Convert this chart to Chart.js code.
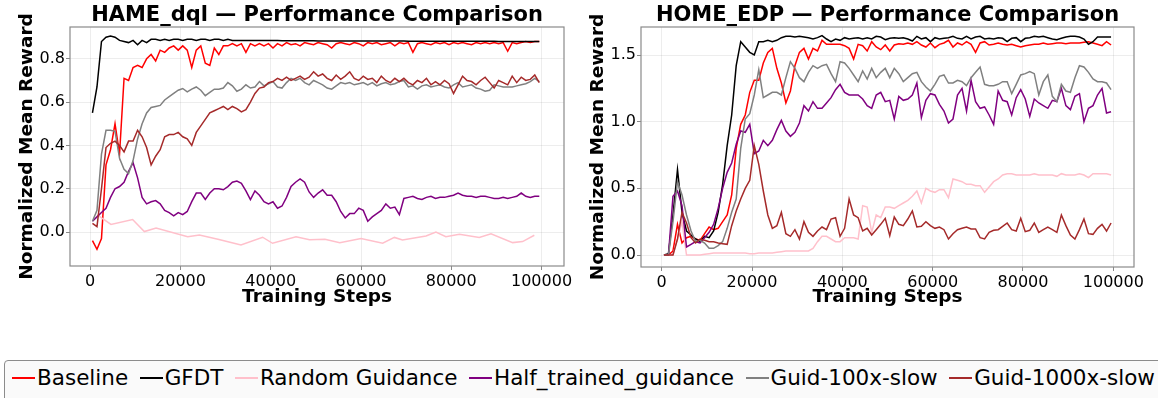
<!DOCTYPE html>
<html>
<head>
<meta charset="utf-8">
<script src="https://cdn.jsdelivr.net/npm/chart.js@4.4.1/dist/chart.umd.min.js"></script>
<style>
  html, body { margin: 0; padding: 0; background: #fff; }
  body { width: 1158px; height: 398px; overflow: hidden; position: relative; font-family: "DejaVu Sans", sans-serif; }
  .panel { position: absolute; top: 0; height: 320px; }
  #hamePanel { left: 0; width: 580px; }
  #homePanel { left: 580px; width: 578px; }
  #legend {
    position: absolute; left: 4px; top: 360px; width: 1175px; height: 48px;
    border: 1px solid #8c8c8c; border-radius: 4px; background: #fafafa;
    display: flex; align-items: flex-start; padding-left: 7px; box-sizing: border-box;
  }
  .item { display: flex; align-items: center; height: 34px; margin-right: 11.5px; white-space: nowrap; }
  .handle { width: 23px; height: 2px; margin-right: 2px; }
  .label { font-size: 21.5px; color: #000; line-height: 34px; }
</style>
</head>
<body>
<div class="panel" id="hamePanel"><canvas id="hameChart"></canvas></div>
<div class="panel" id="homePanel"><canvas id="homeChart"></canvas></div>
<div id="legend"></div>
<script>
const SERIES_NAMES = ['Baseline', 'GFDT', 'Random Guidance', 'Half_trained_guidance', 'Guid-100x-slow', 'Guid-1000x-slow'];
const SERIES_COLORS = ['#ff0000', '#000000', '#ffc0cb', '#800080', '#808080', '#a52a2a'];

// evaluation steps shared by the dense curves (every 1000 steps)
const EVAL_STEPS = Array.from({ length: 100 }, (_, i) => 500 + 1000 * i);

const X_TICKS = [0, 20000, 40000, 60000, 80000, 100000];
const HAME_Y_TICKS = [0.0, 0.2, 0.4, 0.6, 0.8];
const HOME_Y_TICKS = [0.0, 0.5, 1.0, 1.5];

// ---- HAME_dql ----
const hameBaseline = [
  -0.04, -0.08, -0.03, 0.31, 0.38, 0.50, 0.36, 0.71, 0.70, 0.76,
  0.77, 0.76, 0.80, 0.82, 0.79, 0.84, 0.83, 0.85, 0.86, 0.84,
  0.86, 0.84, 0.76, 0.84, 0.86, 0.78, 0.77, 0.85, 0.82, 0.86,
  0.86, 0.87, 0.86, 0.87, 0.83, 0.87, 0.86, 0.87, 0.86, 0.87,
  0.85, 0.87, 0.86, 0.875, 0.865, 0.87, 0.86, 0.875, 0.87, 0.865,
  0.875, 0.87, 0.865, 0.85, 0.87, 0.875, 0.87, 0.865, 0.875, 0.87,
  0.86, 0.875, 0.87, 0.875, 0.865, 0.87, 0.875, 0.86, 0.875, 0.87,
  0.875, 0.83, 0.87, 0.875, 0.87, 0.865, 0.875, 0.87, 0.875, 0.865,
  0.875, 0.87, 0.875, 0.87, 0.865, 0.875, 0.87, 0.875, 0.87, 0.875,
  0.87, 0.875, 0.835, 0.875, 0.87, 0.875, 0.88, 0.875, 0.88, 0.88
];
const hameGfdt = [
  0.55, 0.67, 0.88, 0.90, 0.905, 0.90, 0.885, 0.88, 0.875, 0.885,
  0.865, 0.885, 0.875, 0.89, 0.89, 0.885, 0.89, 0.885, 0.89, 0.89,
  0.885, 0.89, 0.89, 0.885, 0.89, 0.89, 0.885, 0.89, 0.89, 0.885,
  0.89, 0.885, 0.885, 0.885, 0.885, 0.885, 0.885, 0.885, 0.885, 0.885,
  0.885, 0.885, 0.883, 0.883, 0.883, 0.883, 0.883, 0.883, 0.883, 0.883,
  0.882, 0.882, 0.882, 0.882, 0.882, 0.882, 0.882, 0.882, 0.882, 0.882,
  0.882, 0.882, 0.882, 0.882, 0.882, 0.882, 0.882, 0.882, 0.882, 0.882,
  0.881, 0.881, 0.881, 0.881, 0.881, 0.881, 0.881, 0.881, 0.881, 0.881,
  0.881, 0.881, 0.881, 0.881, 0.881, 0.881, 0.881, 0.881, 0.881, 0.881,
  0.88, 0.88, 0.88, 0.88, 0.88, 0.88, 0.88, 0.88, 0.88, 0.88
];
const hameRandomSteps = [1500, 4600, 9400, 12000, 14600, 21600, 24200, 28300, 33400, 38200, 40400, 45600, 48600, 52000,
  55300, 60000, 64800, 67400, 69200, 74400, 76600, 78800, 81800, 86200, 88800, 93600, 95800, 98400];
const hameRandom = [0.08, 0.035, 0.058, 0.002, 0.018, -0.022, -0.014, -0.033, -0.06, -0.024, -0.052, -0.022, -0.036, -0.034,
  -0.05, -0.03, -0.052, -0.025, -0.037, -0.018, 0.0, -0.022, -0.01, -0.025, -0.008, -0.049, -0.044, -0.015];
const hameHalf = [
  0.05, 0.07, 0.09, 0.11, 0.16, 0.20, 0.21, 0.23, 0.28, 0.32,
  0.25, 0.16, 0.13, 0.14, 0.145, 0.13, 0.10, 0.09, 0.075, 0.09,
  0.08, 0.095, 0.14, 0.18, 0.18, 0.15, 0.18, 0.20, 0.20, 0.195,
  0.21, 0.23, 0.235, 0.225, 0.19, 0.15, 0.19, 0.17, 0.14, 0.13,
  0.14, 0.11, 0.12, 0.16, 0.21, 0.23, 0.245, 0.23, 0.185, 0.16,
  0.18, 0.195, 0.17, 0.17, 0.14, 0.095, 0.065, 0.085, 0.085, 0.11,
  0.10, 0.05, 0.07, 0.085, 0.10, 0.13, 0.11, 0.115, 0.08, 0.155,
  0.16, 0.165, 0.155, 0.15, 0.16, 0.165, 0.155, 0.16, 0.16, 0.165,
  0.17, 0.18, 0.17, 0.165, 0.165, 0.16, 0.165, 0.165, 0.16, 0.155,
  0.155, 0.16, 0.155, 0.16, 0.165, 0.18, 0.165, 0.16, 0.165, 0.165
];
const hameGuid100 = [
  0.05, 0.10, 0.36, 0.47, 0.47, 0.465, 0.34, 0.29, 0.27, 0.33,
  0.43, 0.50, 0.55, 0.575, 0.58, 0.585, 0.61, 0.625, 0.64, 0.655,
  0.663, 0.647, 0.66, 0.67, 0.655, 0.63, 0.645, 0.66, 0.66, 0.665,
  0.69, 0.675, 0.65, 0.66, 0.68, 0.665, 0.67, 0.695, 0.675, 0.685,
  0.695, 0.67, 0.665, 0.69, 0.71, 0.70, 0.71, 0.69, 0.68, 0.70,
  0.69, 0.68, 0.665, 0.66, 0.675, 0.69, 0.685, 0.69, 0.68, 0.685,
  0.69, 0.68, 0.69, 0.675, 0.685, 0.69, 0.68, 0.685, 0.695, 0.70,
  0.67, 0.675, 0.66, 0.675, 0.68, 0.67, 0.675, 0.68, 0.67, 0.665,
  0.68, 0.69, 0.67, 0.675, 0.68, 0.665, 0.66, 0.65, 0.655, 0.68,
  0.675, 0.67, 0.67, 0.67, 0.675, 0.68, 0.685, 0.695, 0.71, 0.695
];
const hameGuid1000 = [
  0.04, 0.025, 0.20, 0.39, 0.41, 0.42, 0.40, 0.37, 0.42, 0.42,
  0.47, 0.44, 0.39, 0.31, 0.35, 0.38, 0.44, 0.45, 0.45, 0.46,
  0.44, 0.43, 0.40, 0.46, 0.49, 0.52, 0.55, 0.56, 0.57, 0.58,
  0.565, 0.58, 0.57, 0.555, 0.565, 0.60, 0.64, 0.665, 0.67, 0.69,
  0.695, 0.71, 0.70, 0.715, 0.70, 0.71, 0.72, 0.705, 0.715, 0.74,
  0.72, 0.73, 0.71, 0.70, 0.725, 0.705, 0.72, 0.74, 0.71, 0.70,
  0.72, 0.705, 0.71, 0.69, 0.72, 0.70, 0.69, 0.71, 0.695, 0.71,
  0.69, 0.68, 0.70, 0.69, 0.71, 0.68, 0.695, 0.68, 0.70, 0.685,
  0.64, 0.68, 0.72, 0.70, 0.695, 0.68, 0.70, 0.715, 0.69, 0.665,
  0.70, 0.69, 0.68, 0.72, 0.69, 0.715, 0.70, 0.705, 0.725, 0.69
];

// ---- HOME_EDP ----
const homeBaseline = [
  0.0, 0.0, 0.03, 0.23, 0.09, 0.13, 0.14, 0.12, 0.11, 0.16,
  0.21, 0.19, 0.20, 0.25, 0.30, 0.45, 0.80, 0.98, 1.05, 1.22,
  1.31, 1.31, 1.44, 1.52, 1.55, 1.40, 1.29, 1.14, 1.23, 1.42,
  1.52, 1.55, 1.47, 1.55, 1.53, 1.61, 1.58, 1.58, 1.58, 1.58,
  1.57, 1.55, 1.47, 1.58, 1.57, 1.53, 1.60, 1.56, 1.54, 1.575,
  1.53, 1.575, 1.585, 1.58, 1.59, 1.58, 1.60, 1.575, 1.56, 1.59,
  1.555, 1.58, 1.59, 1.61, 1.56, 1.59, 1.575, 1.60, 1.58, 1.52,
  1.59, 1.60, 1.575, 1.58, 1.59, 1.58, 1.575, 1.58, 1.57, 1.56,
  1.57, 1.575, 1.58, 1.58, 1.59, 1.58, 1.585, 1.59, 1.59, 1.585,
  1.59, 1.59, 1.59, 1.595, 1.60, 1.59, 1.58, 1.57, 1.60, 1.575
];
const homeGfdt = [
  0.0, 0.01, 0.30, 0.64, 0.32, 0.18, 0.15, 0.12, 0.10, 0.14,
  0.13, 0.18, 0.32, 0.53, 0.82, 1.05, 1.42, 1.60, 1.56, 1.52,
  1.50, 1.60, 1.60, 1.61, 1.60, 1.61, 1.63, 1.64, 1.64, 1.635,
  1.64, 1.635, 1.63, 1.62, 1.63, 1.645, 1.62, 1.60, 1.62, 1.61,
  1.63, 1.62, 1.625, 1.63, 1.62, 1.63, 1.62, 1.64, 1.635, 1.615,
  1.625, 1.63, 1.625, 1.63, 1.62, 1.605, 1.64, 1.62, 1.63, 1.60,
  1.63, 1.62, 1.625, 1.63, 1.64, 1.625, 1.62, 1.64, 1.62, 1.635,
  1.64, 1.62, 1.625, 1.62, 1.63, 1.625, 1.60, 1.625, 1.63, 1.60,
  1.625, 1.63, 1.64, 1.635, 1.64, 1.63, 1.62, 1.615, 1.625, 1.635,
  1.64, 1.64, 1.635, 1.62, 1.58, 1.60, 1.635, 1.635, 1.635, 1.635
];
const homeRandom = [
  0.0, 0.0, 0.0, 0.12, 0.25, 0.0, 0.0, 0.0, 0.0, 0.005,
  0.01, 0.015, 0.015, 0.015, 0.015, 0.015, 0.015, 0.015, 0.015, 0.01,
  0.01, 0.015, 0.015, 0.015, 0.015, 0.02, 0.025, 0.03, 0.03, 0.03,
  0.03, 0.03, 0.03, 0.05, 0.10, 0.14, 0.14, 0.12, 0.10, 0.10,
  0.13, 0.13, 0.13, 0.12, 0.37, 0.36, 0.17, 0.30, 0.28, 0.36,
  0.36, 0.35, 0.37, 0.39, 0.41, 0.44, 0.48, 0.39, 0.50, 0.48,
  0.47, 0.49, 0.49, 0.43, 0.57, 0.56, 0.55, 0.53, 0.53, 0.52,
  0.52, 0.47, 0.51, 0.55, 0.57, 0.60, 0.61, 0.61, 0.60, 0.60,
  0.60, 0.60, 0.61, 0.60, 0.60, 0.60, 0.60, 0.59, 0.61, 0.60,
  0.60, 0.60, 0.61, 0.60, 0.58, 0.61, 0.61, 0.61, 0.61, 0.60
];
const homeHalf = [
  0.0, 0.0, 0.44, 0.48, 0.37, 0.06, 0.08, 0.10, 0.09, 0.13,
  0.17, 0.23, 0.35, 0.50, 0.62, 0.69, 0.83, 0.93, 0.92, 0.98,
  0.76, 0.78, 0.86, 0.82, 0.86, 0.94, 1.01, 0.93, 0.89, 0.92,
  0.99, 1.12, 1.08, 1.15, 1.10, 1.10, 1.14, 1.18, 1.24, 1.28,
  1.22, 1.20, 1.20, 1.20, 1.17, 1.12, 1.10, 1.20, 1.22, 1.15,
  1.16, 1.02, 1.19, 1.16, 1.17, 1.20, 1.29, 1.03, 1.16, 1.21,
  1.20, 1.13, 1.08, 0.99, 1.02, 1.20, 1.25, 1.08, 1.31, 1.15,
  1.10, 1.11, 1.05, 0.98, 1.23, 1.16, 1.15, 1.05, 1.18, 1.24,
  1.17, 1.04, 1.17, 1.14, 1.12, 1.10, 1.16, 1.15, 1.25, 1.12,
  1.09, 1.19, 1.21, 1.00, 1.10, 1.12, 1.20, 1.25, 1.065, 1.075
];
const homeGuid100 = [
  0.0, 0.0, 0.25, 0.55, 0.45, 0.30, 0.18, 0.10, 0.11, 0.09,
  0.05, 0.05, 0.07, 0.10, 0.20, 0.32, 0.42, 0.80, 1.02, 1.06,
  1.20, 1.39, 1.18, 1.20, 1.22, 1.22, 1.20, 1.33, 1.45, 1.40,
  1.33, 1.30, 1.37, 1.42, 1.40, 1.42, 1.43, 1.36, 1.30, 1.45,
  1.44, 1.40, 1.35, 1.30, 1.38, 1.32, 1.40, 1.33, 1.37, 1.40,
  1.33, 1.40, 1.36, 1.30, 1.33, 1.36, 1.37, 1.30, 1.26, 1.23,
  1.28, 1.34, 1.35, 1.29, 1.29, 1.31, 1.30, 1.27, 1.33, 1.37,
  1.41, 1.28, 1.27, 1.27, 1.28, 1.30, 1.30, 1.21, 1.28, 1.35,
  1.36, 1.375, 1.36, 1.20, 1.30, 1.35, 1.19, 1.15, 1.28, 1.23,
  1.22, 1.33, 1.42, 1.41, 1.37, 1.32, 1.30, 1.30, 1.29, 1.24
];
const homeGuid1000 = [
  0.0, 0.0, 0.0, 0.12, 0.32, 0.24, 0.13, 0.09, 0.12, 0.11,
  0.10, 0.10, 0.09, 0.085, 0.08, 0.22, 0.33, 0.42, 0.50, 0.56,
  0.82, 0.68, 0.48, 0.30, 0.20, 0.22, 0.32, 0.16, 0.14, 0.19,
  0.12, 0.25, 0.17, 0.14, 0.18, 0.21, 0.19, 0.27, 0.28, 0.14,
  0.20, 0.42, 0.30, 0.28, 0.18, 0.20, 0.15, 0.19, 0.23, 0.275,
  0.145, 0.285, 0.23, 0.22, 0.27, 0.33, 0.21, 0.215, 0.25, 0.22,
  0.20, 0.21, 0.19, 0.12, 0.16, 0.19, 0.20, 0.21, 0.195, 0.195,
  0.13, 0.12, 0.17, 0.185, 0.19, 0.215, 0.24, 0.19, 0.18, 0.275,
  0.175, 0.185, 0.24, 0.17, 0.19, 0.21, 0.19, 0.17, 0.30, 0.22,
  0.15, 0.12, 0.19, 0.27, 0.16, 0.155, 0.20, 0.23, 0.18, 0.24
];

const FONT = '"DejaVu Sans", sans-serif';
Chart.defaults.font.family = FONT;
Chart.defaults.color = '#000';

function pairs(steps, values) {
  return values.map((v, i) => ({ x: steps[i], y: v }));
}

// draws the panel title over the plot area and the box around it
const panelFrame = {
  id: 'panelFrame',
  afterDatasetsDraw(chart, args, opts) {
    const { ctx, chartArea: { left, top, right, bottom } } = chart;
    ctx.save();
    ctx.strokeStyle = '#8a8a8a';
    ctx.lineWidth = 1.2;
    ctx.strokeRect(left, top, right - left, bottom - top);
    ctx.font = `bold 21px ${FONT}`;
    ctx.textAlign = 'center';
    ctx.textBaseline = 'alphabetic';
    ctx.fillStyle = '#000';
    ctx.fillText(opts.text, (left + right) / 2, 21);
    ctx.restore();
  }
};

function buildChart(canvasId, cfg) {
  const datasets = cfg.series.map((data, i) => ({
    label: SERIES_NAMES[i],
    data,
    borderColor: SERIES_COLORS[i],
    borderWidth: 1.5,
    pointRadius: 0,
    fill: false,
    tension: 0,
    order: -i,
  }));

  const gridStyle = { color: 'rgba(0,0,0,0.07)', lineWidth: 1, tickLength: 4, tickColor: '#8a8a8a' };

  return new Chart(document.getElementById(canvasId), {
    type: 'line',
    data: { datasets },
    options: {
      responsive: true,
      maintainAspectRatio: false,
      animation: false,
      events: [],
      layout: { padding: { top: 27, right: cfg.padRight, left: 0, bottom: 0 } },
      plugins: {
        legend: { display: false },
        tooltip: { enabled: false },
        panelFrame: { text: cfg.title },
      },
      scales: {
        x: {
          type: 'linear',
          min: cfg.xMin,
          max: cfg.xMax,
          grid: gridStyle,
          border: { display: false },
          afterBuildTicks: (s) => { s.ticks = X_TICKS.map((value) => ({ value })); },
          ticks: {
            maxRotation: 0,
            autoSkip: false,
            padding: 2,
            font: { size: 16 },
            callback: (v) => String(v),
          },
          title: {
            display: true,
            text: 'Training Steps',
            font: { size: 18.5, weight: 'bold' },
            padding: { top: 0, bottom: 11.4 },
          },
          afterFit: (s) => { s.height = cfg.xAxisHeight; },
        },
        y: {
          min: cfg.yMin,
          max: cfg.yMax,
          grid: gridStyle,
          border: { display: false },
          afterBuildTicks: (s) => { s.ticks = cfg.yTicks.map((value) => ({ value })); },
          ticks: {
            padding: 1,
            font: { size: 16 },
            callback: (v) => v.toFixed(1),
          },
          title: {
            display: true,
            text: 'Normalized Mean Reward',
            font: { size: 18.5, weight: 'bold' },
            padding: { top: cfg.yTitlePad, bottom: 0 },
          },
          afterFit: (s) => { s.width = cfg.yAxisWidth; },
        },
      },
    },
    plugins: [panelFrame],
  });
}

buildChart('hameChart', {
  title: 'HAME_dql \u2014 Performance Comparison',
  series: [
    pairs(EVAL_STEPS, hameBaseline),
    pairs(EVAL_STEPS, hameGfdt),
    pairs(hameRandomSteps, hameRandom),
    pairs(EVAL_STEPS, hameHalf),
    pairs(EVAL_STEPS, hameGuid100),
    pairs(EVAL_STEPS, hameGuid1000),
  ],
  xMin: -4475, xMax: 104975,
  yMin: -0.157, yMax: 0.947, yTicks: HAME_Y_TICKS,
  padRight: 16, yAxisWidth: 70, xAxisHeight: 54, yTitlePad: 15.9,
});

buildChart('homeChart', {
  title: 'HOME_EDP \u2014 Performance Comparison',
  series: [
    pairs(EVAL_STEPS, homeBaseline),
    pairs(EVAL_STEPS, homeGfdt),
    pairs(EVAL_STEPS, homeRandom),
    pairs(EVAL_STEPS, homeHalf),
    pairs(EVAL_STEPS, homeGuid100),
    pairs(EVAL_STEPS, homeGuid1000),
  ],
  xMin: -4580, xMax: 104580,
  yMin: -0.09, yMax: 1.71, yTicks: HOME_Y_TICKS,
  padRight: 24, yAxisWidth: 61, xAxisHeight: 53, yTitlePad: 7.2,
});

// shared legend under both panels
const legend = document.getElementById('legend');
SERIES_NAMES.forEach((name, i) => {
  const item = document.createElement('div');
  item.className = 'item';
  const handle = document.createElement('span');
  handle.className = 'handle';
  handle.style.background = SERIES_COLORS[i];
  const label = document.createElement('span');
  label.className = 'label';
  label.textContent = name;
  item.appendChild(handle);
  item.appendChild(label);
  legend.appendChild(item);
});
</script>
</body>
</html>
